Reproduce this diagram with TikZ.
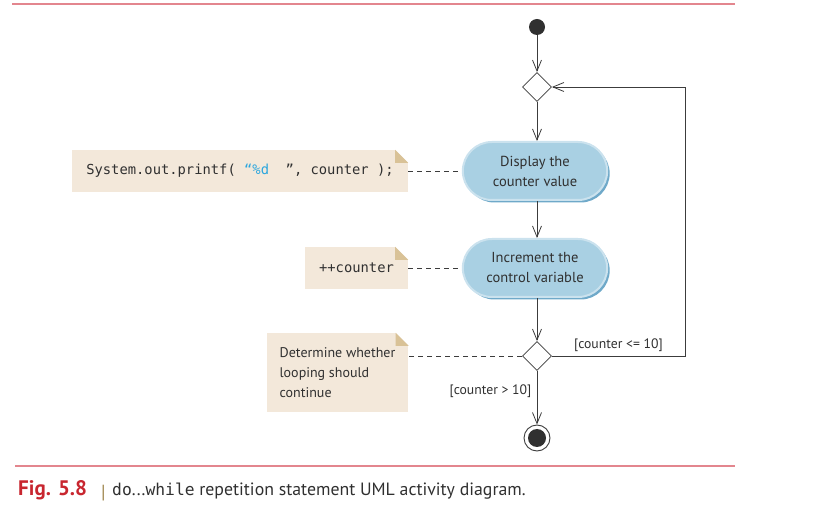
\documentclass[tikz,border=0pt]{standalone}
\usepackage{fontspec}
\setmainfont{PT Sans}
\setmonofont{DejaVu Sans Mono}
\usetikzlibrary{arrows.meta,shapes.geometric,shapes.misc,shadows}
\definecolor{linegray}{HTML}{3C3C3C}
\definecolor{textgray}{HTML}{303030}
\definecolor{notebg}{HTML}{F3E8DA}
\definecolor{notefold}{HTML}{D9C297}
\definecolor{actblue}{HTML}{A9D0E3}
\definecolor{actlight}{HTML}{CBE2EE}
\definecolor{actdark}{HTML}{6FA9C9}
\definecolor{codecyan}{HTML}{2BA6DE}
\definecolor{rulered}{HTML}{E3868E}
\definecolor{figred}{HTML}{C8262F}
\definecolor{bartan}{HTML}{A08850}

\begin{document}
\begin{tikzpicture}[x=1pt,y=-1pt,
  flow/.style={draw=linegray,line width=.8pt,-{Straight Barb[length=11pt,width=9pt]}},
  activity/.style={rounded rectangle,fill=actblue,draw=actlight,line width=2pt,
    minimum width=151pt,minimum height=58pt,align=center,text=textgray,
    font=\fontsize{14.5}{20}\selectfont,
    drop shadow={shadow xshift=2.5pt,shadow yshift=-2.5pt,fill=actdark,opacity=1}},
  note/.style={fill=notebg,minimum height=42pt,inner xsep=13pt,text=textgray},
  branch/.style={diamond,draw=linegray,line width=.8pt,fill=white,
    minimum width=29pt,minimum height=29pt,inner sep=0pt},
  link/.style={draw=linegray,dash pattern=on 5pt off 4pt,line width=.7pt},
  guard/.style={font=\fontsize{13.7}{15}\selectfont,text=textgray},
  rule/.style={draw=rulered,line width=1.3pt}]
\useasboundingbox (0,0) rectangle (817,510);
\def\fold#1{
  \fill[white] (#1.north east) -- +(-13,0) -- +(0,13) -- cycle;
  \fill[notefold] (#1.north east) +(-13,0) -- +(-13,13) -- +(0,13) -- cycle;
}
\draw[rule] (12,4) -- (735,4);
\draw[rule] (15,466) -- (735,466);

\node[circle,fill=textgray,minimum size=16pt,inner sep=0pt] (start) at (537,27) {};
\node[branch] (merge) at (537,87) {};
\node[activity] (display) at (535,171) {Display the\\counter value};
\node[activity] (incr) at (535,268) {Increment the\\control variable};
\node[branch] (decide) at (537,356) {};
\node[circle,draw=linegray,line width=.9pt,fill=white,minimum size=26pt,inner sep=0pt] (stop) at (537,438) {};
\node[circle,fill=textgray,minimum size=18pt,inner sep=0pt] (stopdot) at (stop) {};
\coordinate (loopcorner) at (685,87);

\draw[flow] (start) -- (merge);
\draw[flow] (merge) -- (merge |- display.north);
\draw[flow] (merge |- display.south) -- (merge |- incr.north);
\draw[flow] (merge |- incr.south) -- (decide);
\draw[flow] (decide) -- node[guard,left=2pt,pos=.38] {[counter > 10]} (stop);
\draw[flow] (decide.east) -- node[guard,above=1pt] {[counter <= 10]} (decide.east -| loopcorner)
  -- (loopcorner) -- (merge.east);

\node[note,minimum width=336pt,font=\ttfamily\fontsize{13.8}{16}\selectfont] (printnote) at (240,171)
  {System.out.printf( {\color{codecyan}“\%d\ \ }”, counter );};
\fold{printnote}
\draw[link] (printnote) -- (printnote -| display.west);

\node[note,minimum width=103pt,font=\ttfamily\fontsize{13.8}{16}\selectfont] (incnote) at (356.5,268) {++counter};
\fold{incnote}
\draw[link] (incnote) -- (incnote -| incr.west);

\node[note,minimum width=141pt,minimum height=79pt,align=left,font=\fontsize{14}{20}\selectfont] (decnote) at (337.5,372.5)
  {Determine whether\\looping should\\continue};
\fold{decnote}
\draw[link] (decide.west) -- (decide.west -| decnote.east);

\node[anchor=base west,inner sep=0pt,text=figred,font=\bfseries\fontsize{21}{24}\selectfont] (figlabel) at (18,496) {Fig. 5.8};
\node[anchor=base west,inner sep=0pt,text=bartan,font=\fontsize{19}{22}\selectfont] (figbar) at (101,498) {|};
\node[anchor=base west,inner sep=0pt,text=textgray,font=\fontsize{17.8}{20}\selectfont] (figtext) at (112,496)
  {{\ttfamily\fontsize{16.3}{20}\selectfont do}...{\ttfamily\fontsize{16.3}{20}\selectfont while} repetition statement UML activity diagram.};
\end{tikzpicture}
\end{document}
